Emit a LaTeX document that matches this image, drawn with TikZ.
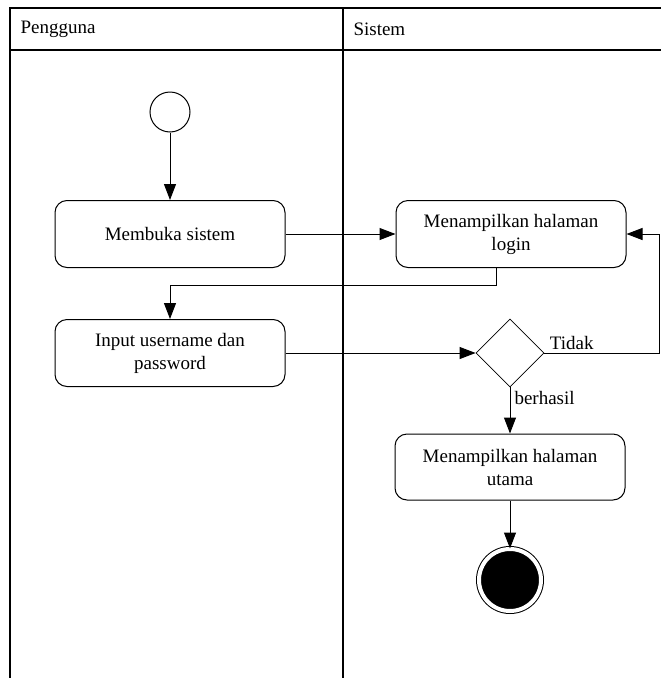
\documentclass[tikz,border=0pt]{standalone}
\usepackage{fontspec}
\setmainfont{Liberation Serif}
\usetikzlibrary{arrows.meta,shapes.geometric}
\tikzset{
  aktivitas/.style={draw, rounded corners=12pt, line width=1pt, align=center,
    minimum width=230pt, minimum height=67pt, inner sep=2pt},
  keputusan/.style={draw, diamond, line width=0.8pt, minimum width=68pt,
    minimum height=68pt, inner sep=0pt},
  alur/.style={-{Triangle[length=16pt,width=12pt]}, line width=1pt},
  lajur/.style={line width=1.2pt}
}
\begin{document}
\begin{tikzpicture}[x=1pt, y=-1pt, font=\fontsize{19}{23}\selectfont]
\useasboundingbox (0,0) rectangle (661,678);

% Swimlane
\draw[lajur] (661,8) -- (10,8) -- (10,678);
\draw[lajur] (10,50) -- (661,50);
\draw[lajur] (343,8) -- (343,678);
\node[anchor=west] (hPengguna) at (17,29) {Pengguna};
\node[anchor=west] (hSistem) at (350,29) {Sistem};

% Lajur Pengguna
\node[circle, draw, line width=1pt, minimum size=40pt] (mulai) at (170,112) {};
\node[aktivitas] (buka) at (170,234) {Membuka sistem};
\node[aktivitas] (input) at (170,353) {Input username dan\\password};

% Lajur Sistem
\node[aktivitas] (login) at (511,234) {Menampilkan halaman\\login};
\node[keputusan] (cek) at (510,353) {};
\node[aktivitas, minimum height=66pt] (utama) at (510,467) {Menampilkan halaman\\utama};
\node[circle, draw, fill=black, double=white, double distance=4pt, line width=1pt,
  minimum size=62pt] (selesai) at (510,580) {};

% Alur
\draw[alur] (mulai) -- (buka);
\draw[alur] (buka) -- (login);
\draw[alur] ([xshift=-15pt]login.south) -- ++(0,17) -| (input.north);
\draw[alur] (input) -- (cek);
\draw[alur] (cek.east) -- ++(115,0) |- (login.east);
\node[anchor=south west] (tidak) at ([xshift=2pt]cek.east) {Tidak};
\draw[alur] (cek.south) -- (utama.north);
\node[anchor=north west] (berhasil) at ([xshift=1pt]cek.south) {berhasil};
\draw[alur] (utama) -- (selesai);

\end{tikzpicture}
\end{document}
